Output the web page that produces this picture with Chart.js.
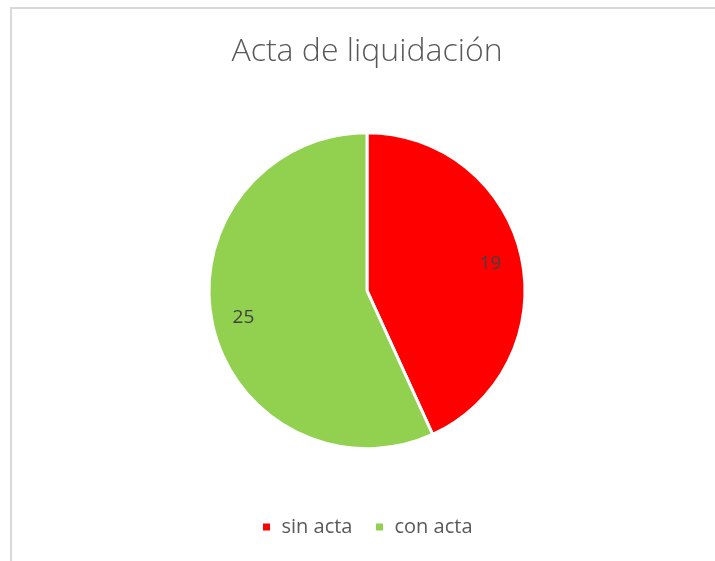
<!DOCTYPE html>
<html>
<head>
<meta charset="utf-8">
<script src="https://cdn.jsdelivr.net/npm/chart.js@4.4.0/dist/chart.umd.min.js"></script>
<style>
    html, body { margin: 0; padding: 0; background: #fff; overflow: hidden; width: 715px; height: 561px; }
    #contenedor { position: absolute; left: 0; top: 0; width: 715px; height: 561px; }
    canvas { display: block; }
</style>
</head>
<body>
<div id="contenedor"><canvas id="grafico-acta"></canvas></div>
<script>
const categorias = ['sin acta', 'con acta'];
const valores = [19, 25];
const colores = ['#ff0000', '#92d050'];

// fondo blanco y marco gris (solo arriba e izquierda)
const pluginMarco = {
    id: 'marco',
    beforeDraw(chart) {
        const ctx = chart.ctx;
        ctx.save();
        ctx.fillStyle = '#ffffff';
        ctx.fillRect(0, 0, chart.width, chart.height);
        ctx.strokeStyle = '#d9d9d9';
        ctx.lineWidth = 2;
        ctx.beginPath();
        ctx.moveTo(11, chart.height);
        ctx.lineTo(11, 8);
        ctx.lineTo(chart.width, 8);
        ctx.stroke();
        ctx.restore();
    }
};

// etiquetas de datos dentro de cada porcion
const pluginEtiquetas = {
    id: 'etiquetas',
    afterDatasetsDraw(chart) {
        const ctx = chart.ctx;
        const meta = chart.getDatasetMeta(0);
        ctx.save();
        ctx.fillStyle = '#404040';
        ctx.font = '19px "Open Sans", sans-serif';
        ctx.textAlign = 'center';
        ctx.textBaseline = 'middle';
        meta.data.forEach((arco, i) => {
            const medio = (arco.startAngle + arco.endAngle) / 2;
            const r = arco.outerRadius * 0.8;
            const x = arco.x + Math.cos(medio) * r;
            const y = arco.y + Math.sin(medio) * r;
            ctx.fillText(String(valores[i]), x, y);
        });
        ctx.restore();
    }
};

const ctxActa = document.getElementById('grafico-acta').getContext('2d');

const graficoActa = new Chart(ctxActa, {
    type: 'pie',
    data: {
        labels: categorias,
        datasets: [{
            data: valores,
            backgroundColor: colores,
            borderColor: '#ffffff',
            borderWidth: 3
        }]
    },
    options: {
        responsive: true,
        maintainAspectRatio: false,
        animation: false,
        radius: 158,
        layout: {
            padding: { left: 19, right: 0, top: 23, bottom: 14 }
        },
        plugins: {
            title: {
                display: true,
                text: 'Acta de liquidación',
                color: '#595959',
                font: { family: '"Open Sans", sans-serif', size: 32, weight: '300' },
                padding: { top: 10, bottom: 15 }
            },
            legend: {
                position: 'bottom',
                labels: {
                    color: '#595959',
                    font: { family: '"Open Sans", sans-serif', size: 20 },
                    boxWidth: 10,
                    boxHeight: 10,
                    padding: 22
                }
            },
            tooltip: { enabled: false }
        }
    },
    plugins: [pluginMarco, pluginEtiquetas]
});
</script>
</body>
</html>
